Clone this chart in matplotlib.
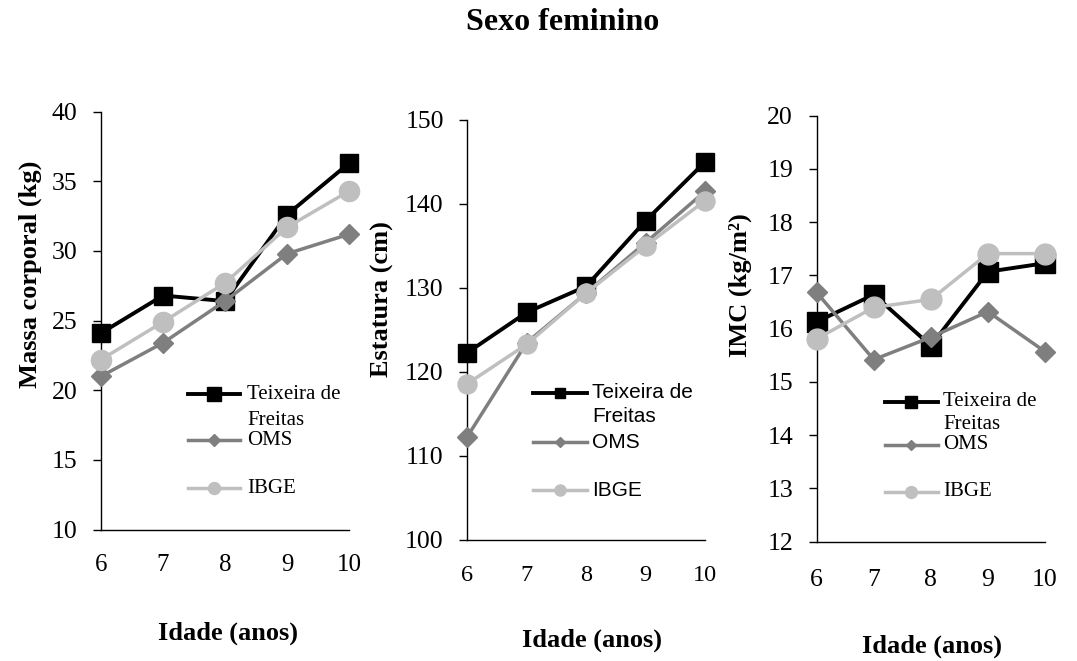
import matplotlib
matplotlib.use("Agg")
import matplotlib.pyplot as plt

# ---------------- data ----------------
ages = [6, 7, 8, 9, 10]
series_names = ["Teixeira de\nFreitas", "OMS", "IBGE"]

massa_teixeira = [24.1, 26.8, 26.4, 32.6, 36.3]
massa_oms = [21.0, 23.4, 26.4, 29.8, 31.2]
massa_ibge = [22.2, 24.9, 27.7, 31.7, 34.3]

estatura_teixeira = [122.3, 127.1, 130.2, 138.0, 145.0]
estatura_oms = [112.3, 123.5, 129.4, 135.4, 141.5]
estatura_ibge = [118.6, 123.3, 129.4, 135.0, 140.4]

imc_teixeira = [16.13, 16.64, 15.68, 17.07, 17.23]
imc_oms = [16.68, 15.42, 15.84, 16.32, 15.57]
imc_ibge = [15.81, 16.40, 16.55, 17.41, 17.41]

title = "Sexo feminino"
xlabel = "Idade (anos)"
ylabels = ["Massa corporal (kg)", "Estatura (cm)", "IMC (kg/m²)"]
yticks_list = [list(range(10, 41, 5)), list(range(100, 151, 10)), list(range(12, 21, 1))]

# ---------------- style ----------------
SERIF = "Liberation Serif"
SANS = "Liberation Sans"
colors = ["#000000", "#7f7f7f", "#bfbfbf"]
markers = ["s", "D", "o"]
lws = [2.8, 2.5, 2.5]

W, H = 1077, 661
fig = plt.figure(figsize=(W / 100, H / 100), dpi=100)

# axes boxes in pixel coords: (left, right, top, bottom)
boxes = [(101, 349, 111.7, 529.5), (467.3, 705, 120, 540), (816.7, 1045, 115.7, 541.7)]
mk_sizes = [(13, 10.5, 14.5), (13, 10, 13.7), (14, 10.5, 15)]
leg_mk = [(9.6, 6, 8.6), (7, 4.8, 8), (8.5, 5.5, 8.5)]
leg_font = [SERIF, SANS, SERIF]
# legend geometry in axes fraction: line x0, x1, text x, rows (teix, freitas, oms, ibge)
leg_geo = [
    (0.351, 0.560, 0.589, (0.324, 0.262, 0.214, 0.099)),
    (0.276, 0.503, 0.524, (0.350, 0.295, 0.233, 0.119)),
    (0.299, 0.531, 0.553, (0.328, 0.274, 0.227, 0.117)),
]
xlabel_pos = [(0.512, -0.248), (0.525, -0.238), (0.505, -0.2465)]
ylabel_pos = [(-0.286, 0.6115), (-0.359, 0.574), (-0.336, 0.6026)]
xtick_pad = [17.5, 18, 19.5]
xtick_size = [18, 17.5, 18.5]

data = [
    (massa_teixeira, massa_oms, massa_ibge),
    (estatura_teixeira, estatura_oms, estatura_ibge),
    (imc_teixeira, imc_oms, imc_ibge),
]

for i, (l, r, t, b) in enumerate(boxes):
    ax = fig.add_axes([l / W, 1 - b / H, (r - l) / W, (b - t) / H])
    for j, vals in enumerate(data[i]):
        ax.plot(ages, vals, color=colors[j], lw=lws[j], marker=markers[j],
                ms=mk_sizes[i][j], markeredgecolor=colors[j], markerfacecolor=colors[j],
                clip_on=False, zorder=3 + j)
    ax.set_xlim(ages[0], ages[-1])
    yt = yticks_list[i]
    ax.set_ylim(yt[0], yt[-1])
    ax.set_yticks(yt)
    ax.set_xticks(ages)
    ax.set_xticklabels([str(a) for a in ages])
    for s in ["top", "right"]:
        ax.spines[s].set_visible(False)
    for s in ["left", "bottom"]:
        ax.spines[s].set_linewidth(1.0)
        ax.spines[s].set_color("#000000")
    ax.tick_params(axis="y", direction="out", length=6, width=1.0, pad=11,
                   labelsize=18.5, color="#000000")
    ax.tick_params(axis="x", length=0, pad=xtick_pad[i], labelsize=xtick_size[i])
    for lab in ax.get_xticklabels() + ax.get_yticklabels():
        lab.set_fontfamily(SERIF)
    ax.set_xlabel(xlabel, fontsize=19, fontweight="bold", family=SERIF)
    ax.xaxis.set_label_coords(*xlabel_pos[i])
    ax.xaxis.label.set_va("center")
    ax.set_ylabel(ylabels[i], fontsize=19, fontweight="bold", family=SERIF)
    ax.yaxis.set_label_coords(*ylabel_pos[i])
    ax.yaxis.label.set_va("center")
    ax.yaxis.label.set_ha("center")

    # manual legend
    x0, x1, xt, rows = leg_geo[i]
    row_y = [rows[0], rows[2], rows[3]]
    for j in range(3):
        y = row_y[j]
        ax.plot([x0, x1], [y, y], transform=ax.transAxes, color=colors[j], lw=lws[j],
                clip_on=False, zorder=10)
        ax.plot([(x0 + x1) / 2], [y], transform=ax.transAxes, color=colors[j],
                marker=markers[j], ms=leg_mk[i][j], clip_on=False, zorder=11, lw=0)
    first, second = series_names[0].split("\n")
    ax.text(xt, rows[0], first, transform=ax.transAxes, fontsize=15, family=leg_font[i],
            va="center", ha="left")
    ax.text(xt, rows[1], second, transform=ax.transAxes, fontsize=15, family=leg_font[i],
            va="center", ha="left")
    ax.text(xt, rows[2], series_names[1], transform=ax.transAxes, fontsize=15,
            family=leg_font[i], va="center", ha="left")
    ax.text(xt, rows[3], series_names[2], transform=ax.transAxes, fontsize=15,
            family=leg_font[i], va="center", ha="left")

fig.text(563 / W, 1 - 22 / H, title, ha="center", va="center", fontsize=23,
         fontweight="bold", family=SERIF)

fig.savefig("out.png", dpi=100)
